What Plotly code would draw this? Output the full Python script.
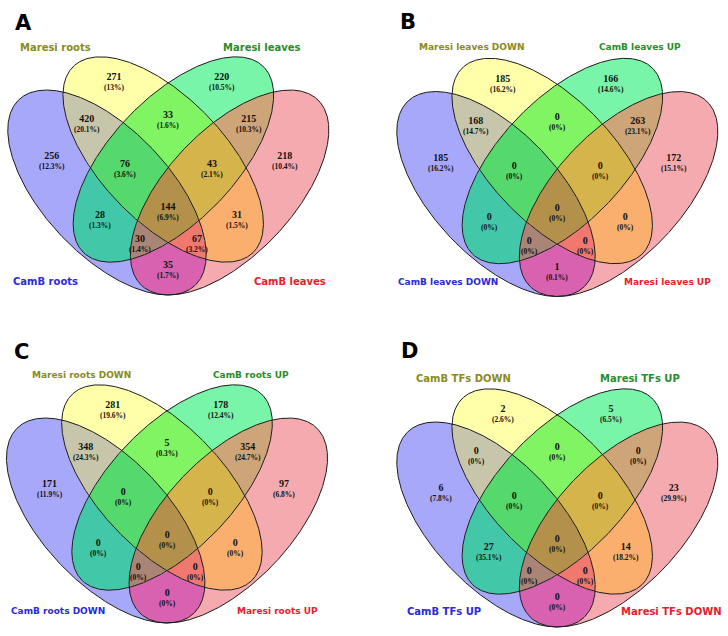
import numpy as np
import plotly.graph_objects as go

# ---------------- data ----------------
panel_letters = ["A", "B", "C", "D"]
# set names, in order: blue, yellow, green, red ellipse
set_names_A = ["CamB roots", "Maresi roots", "Maresi leaves", "CamB leaves"]
set_names_B = ["CamB leaves DOWN", "Maresi leaves DOWN", "CamB leaves UP", "Maresi leaves UP"]
set_names_C = ["CamB roots DOWN", "Maresi roots DOWN", "CamB roots UP", "Maresi roots UP"]
set_names_D = ["CamB TFs UP", "CamB TFs DOWN", "Maresi TFs UP", "Maresi TFs DOWN"]

# region keys (1=blue, 2=yellow, 3=green, 4=red)
region_keys = ["1", "2", "3", "4", "12", "23", "34", "13", "24", "14",
               "123", "234", "134", "124", "1234"]
counts_A = [256, 271, 220, 218, 420, 33, 215, 28, 31, 35, 76, 43, 30, 67, 144]
counts_B = [185, 185, 166, 172, 168, 0, 263, 0, 0, 1, 0, 0, 0, 0, 0]
counts_C = [171, 281, 178, 97, 348, 5, 354, 0, 0, 0, 0, 0, 0, 0, 0]
counts_D = [6, 2, 5, 23, 0, 0, 0, 27, 14, 0, 0, 0, 0, 0, 0]

# ---------------- layout / style ----------------
# ellipses in panel-local pixels: (cx from centre line, cy, semi-major, semi-minor, angle deg)
ellipses = [
    (-61.3, 192.5, 128.0, 63.0, 46.5),    # blue
    (-5.1, 159.5, 129.4, 62.1, 46.1),     # yellow
    (5.1, 159.5, 129.4, 62.1, 133.9),     # green
    (61.3, 192.5, 128.0, 63.0, 133.5),    # red
]
region_colors = {
    "1": "#a8a8fa", "2": "#ffffaa", "3": "#78f5a8", "4": "#f5aaaf",
    "12": "#c8c6aa", "23": "#80f462", "34": "#cda578", "13": "#42c8a8",
    "24": "#faaf6e", "14": "#d862b0", "123": "#55d86c", "234": "#d6b44c",
    "134": "#aa8474", "124": "#f0786e", "1234": "#b4914b",
}
label_colors = ["#2a2ad6", "#8a8a20", "#2a8c2a", "#e8202c"]

reg_pos = {"1": (-116.6, 156), "2": (-54, 77.3), "3": (54, 77.3), "4": (116.6, 156),
           "12": (-81, 119.3), "23": (0, 115), "34": (81, 119.3), "13": (-68.3, 215),
           "24": (68.3, 215), "14": (0, 265), "123": (-43.3, 164), "234": (43.3, 164),
           "134": (-28.3, 239.3), "124": (28.3, 239.3), "1234": (0, 206.7)}

panels = [
    dict(letter="A", names=set_names_A, counts=counts_A, ox=168.3, oy=0, fs=10,
         letter_xy=(23.5, 22.5), name_xy=[(45.5, 281), (55.5, 47.7), (262, 47.7), (289.5, 281)]),
    dict(letter="B", names=set_names_B, counts=counts_B, ox=557.3, oy=1.5, fs=9,
         letter_xy=(408, 21.7), name_xy=[(448, 281.7), (471.5, 46.7), (639.8, 46.7), (667.3, 281.7)]),
    dict(letter="C", names=set_names_C, counts=counts_C, ox=167.0, oy=328, fs=9,
         letter_xy=(21.7, 352), name_xy=[(57.5, 610.7), (81.7, 374.7), (250.8, 374.7), (277.8, 610.7)]),
    dict(letter="D", names=set_names_D, counts=counts_D, ox=557.3, oy=332, fs=10,
         letter_xy=(409, 351.3), name_xy=[(444, 611.3), (463.2, 378.7), (640.2, 378.7), (671.5, 611.3)]),
]

N = 1440
tt = np.linspace(0, 2*np.pi, N, endpoint=False)


def ell_xy(e, ox, oy):
    cx, cy, a, b, ang = e
    th = np.radians(ang)
    xs = ox + cx + a*np.cos(th)*np.cos(tt) - b*np.sin(th)*np.sin(tt)
    ys = oy + cy + a*np.sin(th)*np.cos(tt) + b*np.cos(th)*np.sin(tt)
    return xs, ys


def inside(e, ox, oy, x, y):
    cx, cy, a, b, ang = e
    th = np.radians(ang)
    dx, dy = x - (ox + cx), y - (oy + cy)
    u = dx*np.cos(th) + dy*np.sin(th)
    v = -dx*np.sin(th) + dy*np.cos(th)
    return (u/a)**2 + (v/b)**2 < 1.0


def region_polygon(key, ox, oy):
    """Outline of one Venn region, traced along the ellipse arcs that bound it."""
    S = {int(ch) - 1 for ch in key}
    arcs = []
    for i in range(4):
        xs, ys = ell_xy(ellipses[i], ox, oy)
        cond = np.ones(N, dtype=bool)
        for j in range(4):
            if j == i:
                continue
            cond &= inside(ellipses[j], ox, oy, xs, ys) == (j in S)
        if cond.all() or not cond.any():
            continue
        k0 = int(np.argmin(cond))
        idx = (np.arange(N) + k0) % N
        run = []
        for k in idx:
            if cond[k]:
                run.append(k)
            elif run:
                arcs.append(np.column_stack([xs[run], ys[run]]))
                run = []
        if run:
            arcs.append(np.column_stack([xs[run], ys[run]]))
    loops = []
    cur = [arcs.pop(0)]
    while arcs:
        end = cur[-1][-1]
        best, bd, rev = 0, 1e18, False
        for n_, arc in enumerate(arcs):
            d1 = np.hypot(*(arc[0] - end))
            d2 = np.hypot(*(arc[-1] - end))
            if d1 < bd:
                best, bd, rev = n_, d1, False
            if d2 < bd:
                best, bd, rev = n_, d2, True
        close_gap = np.hypot(*(cur[0][0] - end))
        if bd > 4 and close_gap < bd:
            loops.append(np.vstack(cur))
            cur = [arcs.pop(0)]
            continue
        arc = arcs.pop(best)
        cur.append(arc[::-1] if rev else arc)
    loops.append(np.vstack(cur))
    X, Y = [], []
    for lp in loops:
        X += list(lp[:, 0]) + [lp[0, 0], None]
        Y += list(lp[:, 1]) + [lp[0, 1], None]
    return X[:-1], Y[:-1]


def pct(c, tot):
    s = f"{100.0 * c / tot:.1f}"
    if s.endswith(".0"):
        s = s[:-2]
    return f"({s}%)"


fig = go.Figure()
ann = []
for p in panels:
    for k in region_keys:
        px, py = region_polygon(k, p["ox"], p["oy"])
        fig.add_trace(go.Scatter(x=px, y=py, mode="lines", fill="toself",
                                 fillcolor=region_colors[k], line=dict(width=0),
                                 hoverinfo="skip", showlegend=False))
    for e in ellipses:
        xs, ys = ell_xy(e, p["ox"], p["oy"])
        fig.add_trace(go.Scatter(x=np.append(xs, xs[0]), y=np.append(ys, ys[0]), mode="lines",
                                 line=dict(color="#1c1c1c", width=1),
                                 hoverinfo="skip", showlegend=False))
    tot = sum(p["counts"])
    for k, c in zip(region_keys, p["counts"]):
        dx, y = reg_pos[k]
        ann.append(dict(x=p["ox"] + dx, y=p["oy"] + y + 4.5,
                        text=f"<span style='font-size:10px'><b>{c}</b></span><br><b>{pct(c, tot)}</b>",
                        showarrow=False, borderpad=0,
                        font=dict(family="Liberation Serif", size=7.5, color="#111")))
    for nm, (nx, ny), col in zip(p["names"], p["name_xy"], label_colors):
        ann.append(dict(x=nx, y=ny, text=f"<b>{nm}</b>", showarrow=False,
                        font=dict(family="DejaVu Sans", size=p["fs"], color=col)))
    ann.append(dict(x=p["letter_xy"][0], y=p["letter_xy"][1], text=f"<b>{p['letter']}</b>",
                    showarrow=False, font=dict(family="DejaVu Sans", size=21, color="black")))

fig.update_layout(
    width=728, height=636, margin=dict(l=0, r=0, t=0, b=0),
    paper_bgcolor="white", plot_bgcolor="white", annotations=ann,
    xaxis=dict(range=[0, 728], visible=False, fixedrange=True),
    yaxis=dict(range=[636, 0], visible=False, fixedrange=True),
)
fig.write_html("out.html", config={"displayModeBar": False},
               post_script="document.body.style.margin='0';")
